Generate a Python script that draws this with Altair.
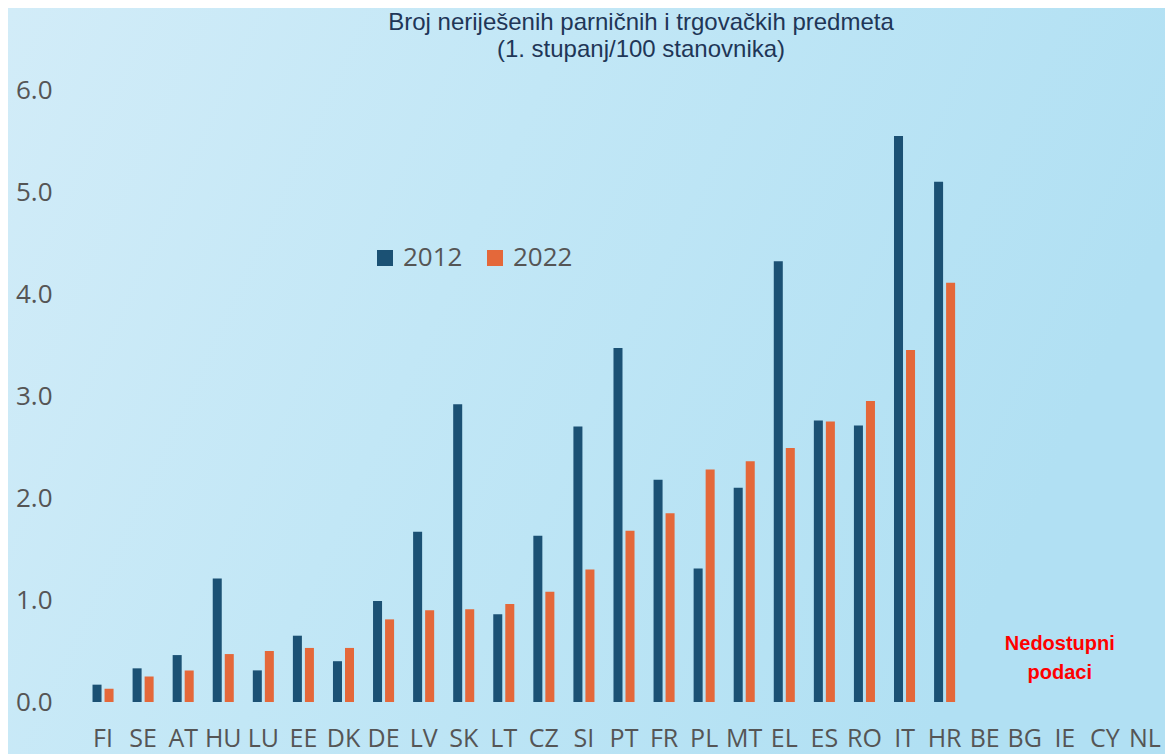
import altair as alt
import pandas as pd

countries_all = ["FI", "SE", "AT", "HU", "LU", "EE", "DK", "DE", "LV", "SK", "LT", "CZ", "SI",
                 "PT", "FR", "PL", "MT", "EL", "ES", "RO", "IT", "HR", "BE", "BG", "IE", "CY", "NL"]
countries_data = countries_all[:22]
values_2012 = [0.17, 0.33, 0.46, 1.21, 0.31, 0.65, 0.40, 0.99, 1.67, 2.92, 0.86, 1.63, 2.70,
               3.47, 2.18, 1.31, 2.10, 4.32, 2.76, 2.71, 5.55, 5.10]
values_2022 = [0.13, 0.25, 0.31, 0.47, 0.50, 0.53, 0.53, 0.81, 0.90, 0.91, 0.96, 1.08, 1.30,
               1.68, 1.85, 2.28, 2.36, 2.49, 2.75, 2.95, 3.45, 4.11]
years = ["2012", "2022"]
y_ticks = [0, 1, 2, 3, 4, 5, 6]
title_lines = ["Broj neriješenih parničnih i trgovačkih predmeta", "(1. stupanj/100 stanovnika)"]
note_lines = ["Nedostupni", "podaci"]

rows = []
for c, a, b in zip(countries_data, values_2012, values_2022):
    rows.append({"country": c, "year": "2012", "value": a})
    rows.append({"country": c, "year": "2022", "value": b})
df = pd.DataFrame(rows)

W, H = 1082, 612
PAD_L, PAD_T, PAD_B = 75, 82, 52

bg = alt.Chart(pd.DataFrame({"a": [0]})).mark_rect(
    fill=alt.Gradient(
        gradient="linear", x1=0, y1=0, x2=1, y2=0.3,
        stops=[alt.GradientStop(color="#d2ecf8", offset=0),
               alt.GradientStop(color="#c2e7f6", offset=0.45),
               alt.GradientStop(color="#b1e0f3", offset=1)]
    )
).encode(x=alt.value(-PAD_L), x2=alt.value(W), y=alt.value(-PAD_T), y2=alt.value(H + PAD_B))

xscale = alt.Scale(domain=countries_all, paddingInner=0.475, paddingOuter=0.2375)

bars = alt.Chart(df).mark_bar().encode(
    x=alt.X("country:N", scale=xscale, sort=countries_all,
            axis=alt.Axis(title=None, labelAngle=0, domain=False, ticks=False, zindex=2,
                          labelFont="Open Sans", labelFontSize=25, labelColor="#555555",
                          labelPadding=24)),
    xOffset=alt.XOffset("year:N", scale=alt.Scale(paddingInner=0.25, paddingOuter=0)),
    y=alt.Y("value:Q", scale=alt.Scale(domain=[0, 6], nice=False),
            axis=alt.Axis(title=None, values=y_ticks, format=".1f", grid=False, domain=False,
                          ticks=False, zindex=2, labelFont="Open Sans", labelFontSize=26,
                          labelColor="#555555", labelPadding=31)),
    color=alt.Color("year:N", scale=alt.Scale(domain=years, range=["#1b5174", "#e4683a"]),
                    legend=alt.Legend(title=None, orient="none", legendX=289, legendY=155,
                                      direction="horizontal", symbolType="square",
                                      symbolSize=256, symbolStrokeWidth=0,
                                      labelFont="Open Sans", labelFontSize=26,
                                      labelColor="#555555", labelOffset=5,
                                      columnPadding=19)),
)

note = alt.Chart(pd.DataFrame({"country": ["IE"], "y": [0.57]})).mark_text(
    text=note_lines, font="Liberation Sans", fontSize=20, fontWeight="bold",
    color="#ff0000", baseline="middle", align="center", lineHeight=29, dx=-5
).encode(x=alt.X("country:N", scale=xscale, sort=countries_all),
         y=alt.Y("y:Q"))

chart = alt.layer(bg, bars, note).properties(
    width=W, height=H,
    title=alt.TitleParams(text=title_lines, font="Liberation Sans", fontSize=24,
                          fontWeight="normal", color="#1f3657", lineHeight=27,
                          anchor="middle", frame="group", dx=17, offset=-54),
    autosize=alt.AutoSizeParams(type="none"),
    padding={"left": PAD_L, "top": PAD_T, "right": 0, "bottom": PAD_B},
).configure_view(stroke=None).configure(background="#c8e9f7")

chart.save("out.html", embed_options={"renderer": "svg", "actions": False})
